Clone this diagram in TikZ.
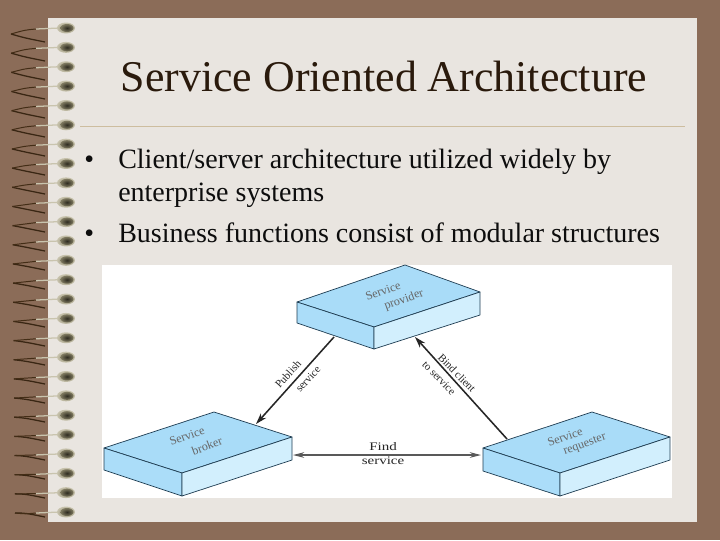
\documentclass[tikz,border=0pt]{standalone}
\usepackage{fontspec}
\setmainfont{Liberation Serif}
\usepackage{xcolor}
\definecolor{deskbrown}{HTML}{8B6C58}
\definecolor{paper}{HTML}{E9E5E0}
\definecolor{rulecol}{HTML}{CDBD9F}
\definecolor{titlecol}{HTML}{2A1A0C}
\definecolor{edgecol}{HTML}{1F3D52}
\definecolor{topface}{HTML}{A9DCF8}
\definecolor{leftface}{HTML}{ABDDF9}
\definecolor{rightface}{HTML}{D2EFFD}
\definecolor{ringedge}{HTML}{C9C4AE}
\definecolor{ringmid}{HTML}{7F7A60}
\definecolor{ringcore}{HTML}{2E2B20}
\usetikzlibrary{arrows.meta}
\tikzset{
  ringdot/.style = {inner color=ringmid, outer color=ringedge},
  ringcoredot/.style = {inner color=ringcore, outer color=ringmid},
  face/.style = {draw=edgecol, line width=0.5pt, line join=round},
  boxtext/.style = {text=black!60, font=\fontsize{8.6}{10}\selectfont, inner sep=0pt},
  armtext/.style = {text=black!85, font=\fontsize{7.8}{9}\selectfont, inner sep=0pt},
  findtext/.style = {text=black!85, font=\fontsize{8.2}{10}\selectfont, xscale=1.3, inner sep=0pt},
  bullettext/.style = {text=black!95, font=\fontsize{19.9}{23}\selectfont, anchor=base west, inner sep=0pt},
  link/.style = {draw=black!85, line width=1.1pt, -{Stealth[length=8pt,width=5pt]}}
}

\begin{document}
\begin{tikzpicture}[x=0.025cm,y=-0.025cm]
	\useasboundingbox (0,0) rectangle (720,540);

	% Page
	\fill[deskbrown] (0,0) rectangle (720,540);
	\fill[paper] (48,18) rectangle (697,522);

	% Rings
	\foreach \i in {0,...,25}{
		\pgfmathsetmacro{\ry}{28+19.36*\i}
		\pgfmathsetmacro{\rise}{6-5*\i/25}
		\pgfmathsetmacro{\drop}{14-9*\i/25}
		\pgfmathsetmacro{\tipx}{11+4*\i/25}
		\draw[black!70!brown, line width=0.9pt] (\tipx,\ry+\rise) .. controls (25,\ry+\drop-4) .. (45,\ry+\drop);
		\draw[black!65!brown, line width=0.7pt] (\tipx,\ry+\rise) .. controls (25,\ry+2) .. (36,\ry+1);
		\draw[ringedge, line width=0.9pt] (36,\ry+1) -- (60,\ry);
		\shade[ringdot] (66,\ry) ellipse (9 and 5.5);
		\shade[ringcoredot] (67,\ry) ellipse (6.5 and 4);
	}

	% Title
	\node[text=titlecol, font=\fontsize{31.2}{36}\selectfont, inner sep=0pt] (title) at (384,76) {Service Oriented Architecture};
	\draw[rulecol, line width=0.5pt] (80,126) -- (685,126);

	% Bullets
	\node[bullettext] (dot1) at (84,168) {•};
	\node[bullettext] (line1) at (118,168) {Client/server architecture utilized widely by};
	\node[bullettext] (line2) at (118,201) {enterprise systems};
	\node[bullettext] (dot2) at (84,242) {•};
	\node[bullettext] (line3) at (118,242) {Business functions consist of modular structures};

	% Figure
	\fill[white] (102,265) rectangle (672,498);

	% Box provider
	\coordinate (pl) at (297,302);
	\coordinate (pt) at (405,265);
	\coordinate (pr) at (480,292);
	\coordinate (pf) at (374,327);
	\coordinate (pb) at (374,349);
	\coordinate (plb) at (297,323);
	\coordinate (prb) at (480,315);
	\draw[face, fill=topface] (pl) -- (pt) -- (pr) -- (pf) -- cycle;
	\draw[face, fill=leftface] (pl) -- (pf) -- (pb) -- (plb) -- cycle;
	\draw[face, fill=rightface] (pf) -- (pr) -- (prb) -- (pb) -- cycle;
	\node[boxtext, rotate=20] (prov1) at (383,291) {Service};
	\node[boxtext, rotate=20] (prov2) at (404,300) {provider};

	% Box broker
	\coordinate (bl) at (104,448);
	\coordinate (bt) at (214,412);
	\coordinate (br) at (292,437);
	\coordinate (bf) at (182,473);
	\coordinate (bb) at (182,496);
	\coordinate (blb) at (104,470);
	\coordinate (brb) at (292,460);
	\draw[face, fill=topface] (bl) -- (bt) -- (br) -- (bf) -- cycle;
	\draw[face, fill=leftface] (bl) -- (bf) -- (bb) -- (blb) -- cycle;
	\draw[face, fill=rightface] (bf) -- (br) -- (brb) -- (bb) -- cycle;
	\node[boxtext, rotate=20] (brok1) at (187,436) {Service};
	\node[boxtext, rotate=20] (brok2) at (207,446) {broker};

	% Box requester
	\coordinate (rl) at (483,448);
	\coordinate (rt) at (592,412);
	\coordinate (rr) at (670,437);
	\coordinate (rf) at (560,473);
	\coordinate (rb) at (560,496);
	\coordinate (rlb) at (483,471);
	\coordinate (rrb) at (670,460);
	\draw[face, fill=topface] (rl) -- (rt) -- (rr) -- (rf) -- cycle;
	\draw[face, fill=leftface] (rl) -- (rf) -- (rb) -- (rlb) -- cycle;
	\draw[face, fill=rightface] (rf) -- (rr) -- (rrb) -- (rb) -- cycle;
	\node[boxtext, rotate=20] (requ1) at (565,437) {Service};
	\node[boxtext, rotate=20] (requ2) at (585,445) {requester};

	% Arrows
	\coordinate (pubstart) at (334,337);
	\coordinate (pubend) at (256,424);
	\coordinate (bindstart) at (507,439);
	\coordinate (bindend) at (415,337);
	\coordinate (findleft) at (293,455);
	\coordinate (findright) at (481,455);
	\draw[link] (pubstart) -- (pubend);
	\draw[link] (bindstart) -- (bindend);
	\draw[draw=black!65, line width=0.8pt, {Stealth[length=8pt,width=4pt]}-{Stealth[length=8pt,width=4pt]}] (findleft) -- (findright);

	% Arrow labels
	\node[armtext, rotate=48] (pub1) at (288,374) {Publish};
	\node[armtext, rotate=48] (pub2) at (308,379) {service};
	\node[armtext, rotate=-46] (bind1) at (457,373) {Bind client};
	\node[armtext, rotate=-46] (bind2) at (439,378) {to service};
	\node[findtext] (find1) at (383,447) {Find};
	\node[findtext] (find2) at (383,461) {service};
\end{tikzpicture}
\end{document}
